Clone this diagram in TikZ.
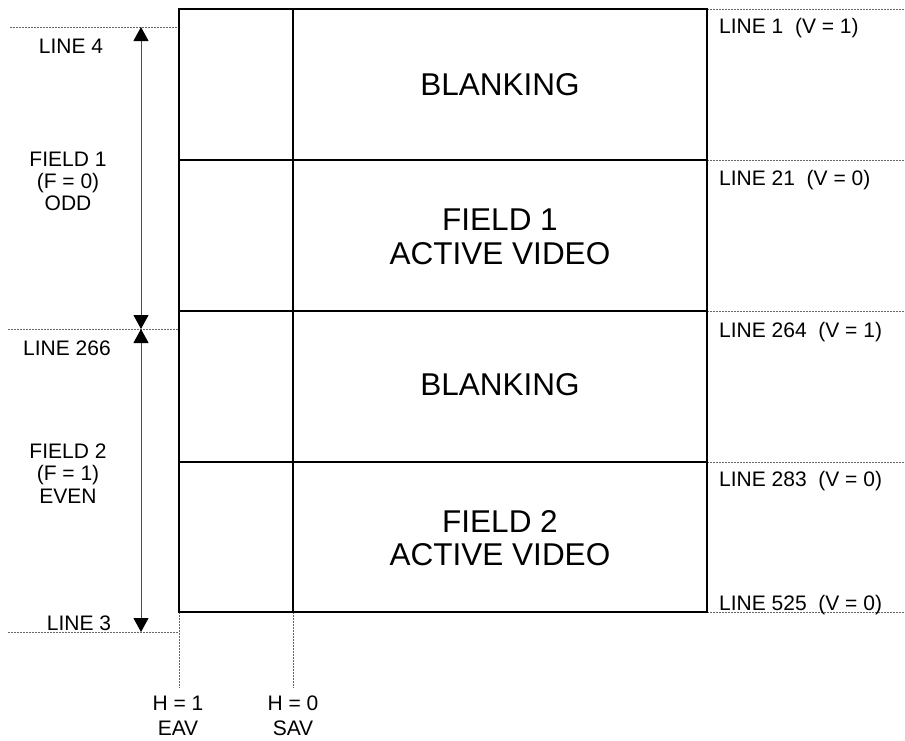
\documentclass[tikz,border=0pt]{standalone}
\usepackage{fontspec}
\setmainfont{Liberation Sans}
\usetikzlibrary{arrows.meta}
\tikzset{
  frame/.style={line width=1.6pt, black},
  guide/.style={line width=0.7pt, gray!80!black, dash pattern=on 2pt off 1pt},
  span/.style={line width=1pt, gray!60!black, {Triangle[width=15pt,length=14pt,color=black,fill=black]}-{Triangle[width=15pt,length=14pt,color=black,fill=black]}},
  small/.style={font=\fontsize{21}{24}\selectfont, inner sep=0pt},
  big/.style={font=\fontsize{31.5}{34}\selectfont, inner sep=0pt},
}
\begin{document}
\begin{tikzpicture}[x=1pt,y=-1pt]
\useasboundingbox (0,0) rectangle (905,740);
% key coordinates
\coordinate (TL) at (179,9);
\coordinate (TR) at (707,9);
\coordinate (BL) at (179,612);
\coordinate (BR) at (707,612);
\coordinate (DT) at (293,9);
\coordinate (DB) at (293,612);
% guide lines (right)
\draw[guide] (707,9) -- (905,9);
\draw[guide] (707,160) -- (905,160);
\draw[guide] (707,311) -- (905,311);
\draw[guide] (707,462) -- (905,462);
\draw[guide] (707,612) -- (905,612);
% guide lines (left)
\coordinate (L4) at (141,27);
\coordinate (L266) at (141,329);
\coordinate (L3) at (141,632);
\draw[guide] (10,27) -- (179,27);
\draw[guide] (8,329) -- (179,329);
\draw[guide] (8,632) -- (179,632);
% guide lines (bottom)
\coordinate (EAVc) at (179,688);
\coordinate (SAVc) at (293,688);
\draw[guide] (BL) -- (EAVc);
\draw[guide] (DB) -- (SAVc);
% frame
\draw[frame] (TL) rectangle (BR);
\draw[frame] (DT) -- (DB);
\draw[frame] (179,160) -- (707,160);
\draw[frame] (179,311) -- (707,311);
\draw[frame] (179,462) -- (707,462);
% spans
\draw[span] (L4) -- (L266);
\draw[span] (L266) -- (L3);
% big labels
\node[big, anchor=base] (b1) at (500,95) {BLANKING};
\node[big, anchor=base] (f1a) at (500,230) {FIELD 1};
\node[big, anchor=base] (f1b) at (500,264) {ACTIVE VIDEO};
\node[big, anchor=base] (b2) at (500,395) {BLANKING};
\node[big, anchor=base] (f2a) at (500,532) {FIELD 2};
\node[big, anchor=base] (f2b) at (500,565) {ACTIVE VIDEO};
% right labels
\node[small, anchor=base west] (r1) at (719,33) {LINE 1\ \ (V = 1)};
\node[small, anchor=base west] (r21) at (719,185) {LINE 21\ \ (V = 0)};
\node[small, anchor=base west] (r264) at (719,337) {LINE 264\ \ (V = 1)};
\node[small, anchor=base west] (r283) at (719,486) {LINE 283\ \ (V = 0)};
\node[small, anchor=base west] (r525) at (719,610) {LINE 525\ \ (V = 0)};
% left labels
\node[small, anchor=base] (l4) at (71,53) {LINE 4};
\node[small, anchor=base] (fa1) at (68,166) {FIELD 1};
\node[small, anchor=base] (fa2) at (68,188) {(F = 0)};
\node[small, anchor=base] (fa3) at (68,210) {ODD};
\node[small, anchor=base] (l266) at (67,355) {LINE 266};
\node[small, anchor=base] (fb1) at (68,458) {FIELD 2};
\node[small, anchor=base] (fb2) at (68,480) {(F = 1)};
\node[small, anchor=base] (fb3) at (68,503) {EVEN};
\node[small, anchor=base] (l3) at (79,630) {LINE 3};
% bottom labels
\node[small, anchor=base] (h1) at (178,710) {H = 1};
\node[small, anchor=base] (eav) at (178,735) {EAV};
\node[small, anchor=base] (h0) at (293,710) {H = 0};
\node[small, anchor=base] (sav) at (293,735) {SAV};
\end{tikzpicture}
\end{document}
